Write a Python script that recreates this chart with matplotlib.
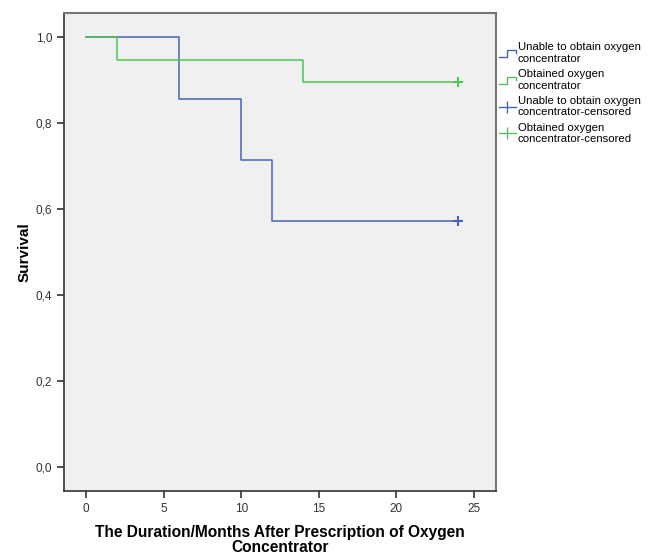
import matplotlib.pyplot as plt
from matplotlib.legend_handler import HandlerBase
from matplotlib.lines import Line2D
from matplotlib.ticker import FuncFormatter

# Kaplan-Meier step data
unable_t = [0, 6, 10, 12, 24]
unable_s = [1.0, 0.857, 0.714, 0.571, 0.571]
obtained_t = [0, 2, 14, 24]
obtained_s = [1.0, 0.947, 0.895, 0.895]

labels = [
    "Unable to obtain oxygen\nconcentrator",
    "Obtained oxygen\nconcentrator",
    "Unable to obtain oxygen\nconcentrator-censored",
    "Obtained oxygen\nconcentrator-censored",
]

BLUE = "#4a62b4"
GREEN = "#52c25a"


class StepHandler(HandlerBase):
    def create_artists(self, legend, orig_handle, xdescent, ydescent,
                       width, height, fontsize, trans):
        x0, y0 = -xdescent, -ydescent
        xs = [x0, x0 + 0.45 * width, x0 + 0.45 * width, x0 + width, x0 + width]
        ys = [y0 + 0.05 * height, y0 + 0.05 * height, y0 + 0.85 * height,
              y0 + 0.85 * height, y0 + 0.55 * height]
        line = Line2D(xs, ys, color=orig_handle.get_color(), lw=1.0,
                      transform=trans)
        return [line]


plt.rcParams["font.family"] = ["Liberation Sans", "DejaVu Sans"]

fig = plt.figure(figsize=(6.53, 5.57), dpi=100)
ax = fig.add_axes([0.098, 0.1185, 0.6616, 0.8582])
ax.set_facecolor("#f0f0f0")

ax.step(unable_t, unable_s, where="post", color=BLUE, lw=1.1)
ax.step(obtained_t, obtained_s, where="post", color=GREEN, lw=1.1)
ax.plot(unable_t[-1], unable_s[-1], marker="+", color=BLUE, ms=7, mew=1.5)
ax.plot(obtained_t[-1], obtained_s[-1], marker="+", color=GREEN, ms=7, mew=1.5)

ax.set_xlim(-1.42, 26.42)
ax.set_ylim(-0.056, 1.056)
ax.set_xticks([0, 5, 10, 15, 20, 25])
ax.set_yticks([0.0, 0.2, 0.4, 0.6, 0.8, 1.0])
ax.yaxis.set_major_formatter(FuncFormatter(lambda v, p: f"{v:.1f}".replace(".", ",")))
ax.tick_params(labelsize=8.5, length=5, width=1.2, color="#333333", labelcolor="#333333")

for side in ["left", "bottom"]:
    ax.spines[side].set_color("#333333")
    ax.spines[side].set_linewidth(1.2)
for side in ["top", "right"]:
    ax.spines[side].set_color("#777777")
    ax.spines[side].set_linewidth(1.5)

ax.set_xlabel("The Duration/Months After Prescription of Oxygen\nConcentrator",
              fontsize=11.2, fontweight="bold", labelpad=7, linespacing=1.0)
ax.set_ylabel("Survival", fontsize=11, fontweight="bold", labelpad=3)

step_blue = Line2D([], [], color=BLUE)
step_green = Line2D([], [], color=GREEN)
cens_blue = Line2D([], [], color=BLUE, marker="|", ms=9, lw=1.0)
cens_green = Line2D([], [], color=GREEN, marker="|", ms=9, lw=1.0)

fig.legend([step_blue, step_green, cens_blue, cens_green], labels,
           loc="upper left", bbox_to_anchor=(0.757, 0.932),
           frameon=False, fontsize=8.2, handlelength=1.5, handletextpad=0.15,
           labelspacing=0.45, borderaxespad=0,
           handler_map={step_blue: StepHandler(), step_green: StepHandler()})

fig.savefig("out.png", dpi=100)
